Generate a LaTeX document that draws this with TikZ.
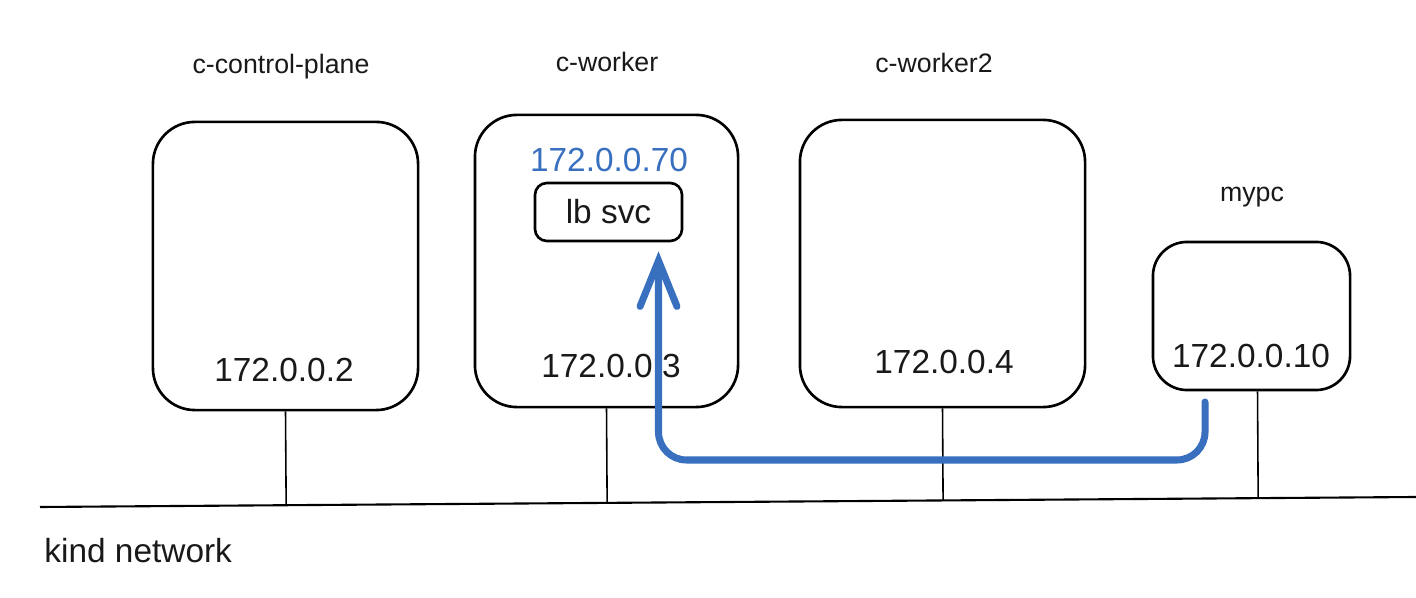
\documentclass[tikz,border=0pt]{standalone}
\usepackage{fontspec}
\setmainfont{Liberation Sans}
\usepackage{xcolor}
\usetikzlibrary{arrows.meta,positioning,calc}
\definecolor{svcblue}{RGB}{56,111,190}

\begin{document}
\begin{tikzpicture}[x=0.01cm,y=-0.01cm,>=Stealth,every node/.style={font=\fontsize{9.5}{11}\selectfont,text=black!90},
  host/.style={draw,line width=.75pt,rounded corners=.42cm,inner sep=0pt},
  tag/.style={font=\fontsize{7.6}{9}\selectfont},
  wire/.style={line width=.45pt},
  flow/.style={svcblue,line width=2pt,line cap=round,rounded corners=.28cm,-{Straight Barb[length=13pt,width=10.5pt,line cap=round]}}]
\useasboundingbox (0,0) rectangle (1416,598);
% hosts
\node[host,minimum width=2.65cm,minimum height=2.88cm] (cp) at (285.5,266) {};
\node[host,minimum width=2.63cm,minimum height=2.92cm] (wk) at (606.5,261) {};
\node[host,minimum width=2.85cm,minimum height=2.87cm] (wk2) at (942.5,263.5) {};
\node[host,minimum width=1.97cm,minimum height=1.48cm,rounded corners=.34cm] (pc) at (1251.5,316) {};
\node[host,minimum width=1.47cm,minimum height=.58cm,rounded corners=.12cm] (lb) at (608.5,212) {lb svc};
% names
\node[tag] (cpname) at (281,67) {c-control-plane};
\node[tag] (wkname) at (607,62) {c-worker};
\node[tag] (wk2name) at (934,63) {c-worker2};
\node[tag] (pcname) at (1252,197) {mypc};
% addresses
\node (cpip) at (284,370) {172.0.0.2};
\node (wkip) at (611,366) {172.0.0.3};
\node (wk2ip) at (944,362) {172.0.0.4};
\node (pcip) at (1251,356) {172.0.0.10};
\node[text=svcblue] (lbip) at (609,160) {172.0.0.70};
% kind network
\coordinate (netw) at (40,507);
\coordinate (nete) at (1416,497);
\draw[line width=.6pt] (netw)--(nete);
\node[anchor=west] (netname) at (32,551) {kind network};
\foreach \h in {cp,wk,wk2}
  \draw[wire] (\h.south)--($(netw)!(\h.south)!(nete)$);
\draw[wire] ($(pc.south)+(6,0)$)--($(netw)!($(pc.south)+(6,0)$)!(nete)$);
% traffic from mypc to the lb service
\coordinate (pcout) at (1205,402);
\coordinate (tip) at ($(lb.south)+(50,9)$);
\draw[flow] (pcout) |- (tip |- 0,460) -- (tip);
\end{tikzpicture}
\end{document}
